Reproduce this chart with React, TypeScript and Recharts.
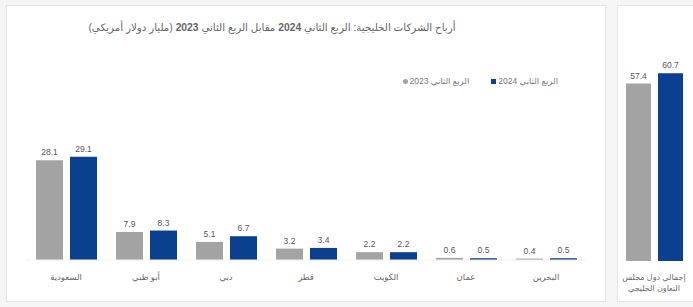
import { BarChart, Bar, XAxis, YAxis, LabelList, Legend } from 'recharts';

const countries = ['السعودية', 'أبو ظبي', 'دبي', 'قطر', 'الكويت', 'عمان', 'البحرين'];
const q2_2023 = [28.1, 7.9, 5.1, 3.2, 2.2, 0.6, 0.4];
const q2_2024 = [29.1, 8.3, 6.7, 3.4, 2.2, 0.5, 0.5];

const totalLabel = ['إجمالي دول مجلس', 'التعاون الخليجي'];
const total2023 = [57.4];
const total2024 = [60.7];

const GRAY = '#a3a3a3';
const BLUE = '#0b3f8f';
const FONT = '"Liberation Sans", "DejaVu Sans", sans-serif';

const rows = countries.map((name, i) => ({ name, a: q2_2023[i], b: q2_2024[i] }));
const totalRows = [{ name: totalLabel.join('\n'), a: total2023[0], b: total2024[0] }];

function CountryTick({ x, y, payload }: any) {
  return (
    <text x={x} y={y + 12} textAnchor="middle" fontSize={8.5} fill="#666" fontFamily={FONT} direction="rtl">
      {payload.value}
    </text>
  );
}

function TotalTick({ x, y, payload }: any) {
  const lines = String(payload.value).split('\n');
  return (
    <text x={x} y={y + 11} textAnchor="middle" fontSize={8} fill="#666" fontFamily={FONT} direction="rtl">
      {lines.map((l, i) => (
        <tspan key={i} x={x} dy={i === 0 ? 0 : 11}>{l}</tspan>
      ))}
    </text>
  );
}

function LegendBox() {
  const item = (label: string, color: string, round: boolean) => (
    <div style={{ display: 'flex', alignItems: 'center', gap: 2 }}>
      <span style={{ width: 5, height: 5, background: color, borderRadius: round ? '50%' : 0, display: 'inline-block' }} />
      <span style={{ direction: 'rtl', fontSize: 8.5, color: '#777' }}>{label}</span>
    </div>
  );
  return (
    <div style={{ display: 'flex', gap: 22, justifyContent: 'flex-end', fontFamily: FONT }}>
      {item('الربع الثاني 2023', GRAY, true)}
      {item('الربع الثاني 2024', BLUE, false)}
    </div>
  );
}

const valueLabel = { position: 'top' as const, offset: 5, fontSize: 8.5, fill: '#555', fontFamily: FONT };

export default function App() {
  return (
    <div style={{ position: 'absolute', left: 0, top: 0, width: 693, height: 307, background: '#f5f5f5', fontFamily: FONT }}>
      <div style={{ position: 'absolute', left: 6, top: 5, width: 600, height: 297, background: '#fff', border: '1px solid #e6e6e6', boxSizing: 'border-box' }}>
        <div style={{ position: 'absolute', left: 0, width: 530, top: 15, textAlign: 'center', direction: 'rtl', fontSize: 10.3, color: '#666' }}>
          أرباح الشركات الخليجية: الربع الثاني <b>2024</b> مقابل الربع الثاني <b>2023</b> (مليار دولار أمريكي)
        </div>
        <BarChart width={598} height={295} data={rows} margin={{ top: 102, right: 19, bottom: 16, left: 19 }} barGap={7} barSize={27}>
          <XAxis dataKey="name" axisLine={{ stroke: '#eeeeee' }} tickLine={false} tick={<CountryTick />} height={25} interval={0} />
          <YAxis hide domain={[0, 40]} />
          <Legend
            verticalAlign="top"
            content={() => <LegendBox />}
            wrapperStyle={{ position: 'absolute', top: 70, left: 0, width: 551 }}
          />
          <Bar dataKey="a" fill={GRAY} isAnimationActive={false}>
            <LabelList dataKey="a" {...valueLabel} />
          </Bar>
          <Bar dataKey="b" fill={BLUE} isAnimationActive={false}>
            <LabelList dataKey="b" {...valueLabel} />
          </Bar>
        </BarChart>
      </div>
      <div style={{ position: 'absolute', left: 617, top: 5, width: 78, height: 297, background: '#fff', border: '1px solid #e6e6e6', boxSizing: 'border-box' }}>
        <BarChart width={76} height={295} data={totalRows} margin={{ top: 54, right: 6, bottom: 15, left: 2 }} barGap={7} barSize={25}>
          <XAxis dataKey="name" axisLine={false} tickLine={false} tick={<TotalTick />} height={25} interval={0} />
          <YAxis hide domain={[0, 65]} />
          <Bar dataKey="a" fill={GRAY} isAnimationActive={false}>
            <LabelList dataKey="a" {...valueLabel} />
          </Bar>
          <Bar dataKey="b" fill={BLUE} isAnimationActive={false}>
            <LabelList dataKey="b" {...valueLabel} />
          </Bar>
        </BarChart>
      </div>
    </div>
  );
}
